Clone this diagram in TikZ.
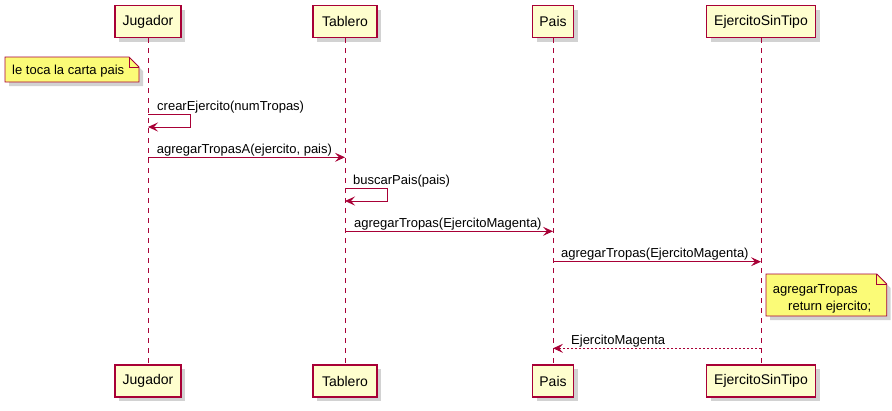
\documentclass[tikz,border=0pt]{standalone}
\usepackage{fontspec}
\setmainfont{Liberation Sans}
\usetikzlibrary{arrows.meta,calc,shadows}
\definecolor{brd}{HTML}{A80036}
\definecolor{pfill}{HTML}{FEFECE}
\definecolor{nfill}{HTML}{FBFB77}
\tikzset{
  part/.style={draw=brd, fill=pfill, line width=1.1pt, inner sep=0pt, minimum height=32pt,
    font=\fontsize{14}{16}\selectfont,
    drop shadow={shadow xshift=4pt, shadow yshift=-4pt, fill=black!35, opacity=0.5}},
  life/.style={draw=brd, line width=0.9pt, dash pattern=on 5pt off 5pt},
  msg/.style={draw=brd, line width=0.9pt, -{Stealth[length=10pt, width=9pt, inset=4pt]}},
  ret/.style={msg, dash pattern=on 2pt off 2pt},
  lbl/.style={inner sep=0pt, anchor=base west, font=\fontsize{13}{15}\selectfont},
  notebox/.style={draw=brd, fill=nfill, line width=0.9pt},
  noteshadow/.style={fill=black!35, opacity=0.5},
}
\begin{document}
\begin{tikzpicture}[x=1pt, y=-1pt]
\useasboundingbox (0,0) rectangle (892,410);
% participants
\foreach \n/\t/\x/\w in {J/Jugador/148/66, T/Tablero/345/64, P/Pais/553/41, E/EjercitoSinTipo/761/109}{
  \node[part, minimum width=\w pt] (\n top) at (\x,21.5) {\t};
  \node[part, minimum width=\w pt] (\n bot) at (\x,381) {\t};
}
% lifelines
\foreach \n in {J,T,P,E}{
  \draw[life] (\n top.south) -- (\n bot.north);
}
% note 1
\fill[noteshadow] (9,61) -- (133,61) -- (143,71) -- (143,86) -- (9,86) -- cycle;
\draw[notebox] (5,57) -- (129,57) -- (139,67) -- (139,82) -- (5,82) -- cycle;
\draw[notebox, fill=none] (129,57) -- (129,67) -- (139,67);
\node[lbl] (n1) at (12,74.5) {le toca la carta pais};
% messages
\coordinate (a1) at (148,114); \coordinate (a1r) at (190,114); \coordinate (a1d) at (190,127); \coordinate (a1e) at (148,127);
\draw[msg] (a1) -- (a1r) -- (a1d) -- (a1e);
\node[lbl] (l1) at (157,110) {crearEjercito(numTropas)};

\coordinate (a2) at (148,157.3); \coordinate (a2e) at (345,157.3);
\draw[msg] (a2) -- (a2e);
\node[lbl] (l2) at (156.7,153.3) {agregarTropasA(ejercito, pais)};

\coordinate (a3) at (345,188.7); \coordinate (a3r) at (387,188.7); \coordinate (a3d) at (387,201); \coordinate (a3e) at (345,201);
\draw[msg] (a3) -- (a3r) -- (a3d) -- (a3e);
\node[lbl] (l3) at (353,184.7) {buscarPais(pais)};

\coordinate (a4) at (345,231.3); \coordinate (a4e) at (553,231.3);
\draw[msg] (a4) -- (a4e);
\node[lbl] (l4) at (354,227.3) {agregarTropas(EjercitoMagenta)};

\coordinate (a5) at (553,261.7); \coordinate (a5e) at (761,261.7);
\draw[msg] (a5) -- (a5e);
\node[lbl] (l5) at (561,257.7) {agregarTropas(EjercitoMagenta)};

% note 2
\fill[noteshadow] (770,278) -- (880.7,278) -- (890.7,288) -- (890.7,320) -- (770,320) -- cycle;
\draw[notebox] (766,274) -- (876.7,274) -- (886.7,284) -- (886.7,316) -- (766,316) -- cycle;
\draw[notebox, fill=none] (876.7,274) -- (876.7,284) -- (886.7,284);
\node[lbl] (n2a) at (772.7,293.5) {agregarTropas};
\node[lbl] (n2b) at (788,310.5) {return ejercito;};

\coordinate (a6) at (761,348.3); \coordinate (a6e) at (553,348.3);
\draw[ret] (a6) -- (a6e);
\node[lbl] (l6) at (571,344.3) {EjercitoMagenta};
\end{tikzpicture}
\end{document}
